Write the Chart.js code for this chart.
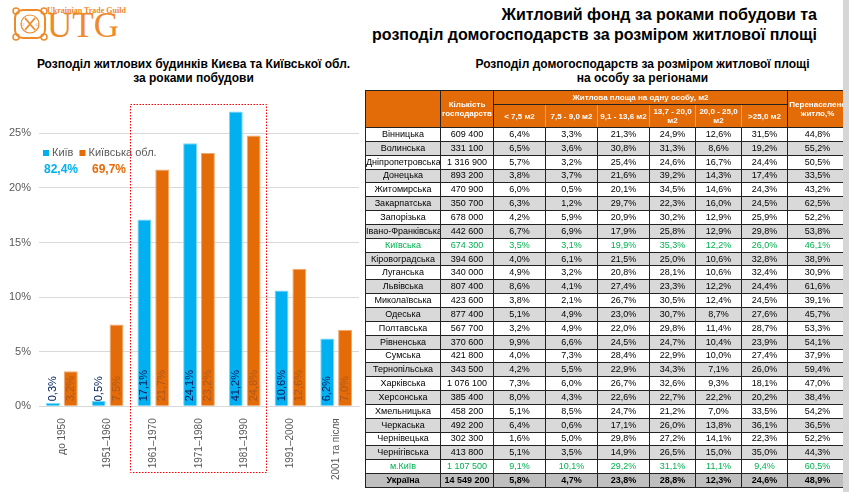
<!DOCTYPE html>
<html>
<head>
<meta charset="utf-8">
<script src="https://cdn.jsdelivr.net/npm/chart.js@4.4.1/dist/chart.umd.min.js"></script>
<style>
    body { margin: 0; width: 849px; height: 492px; background: #fff; position: relative; overflow: hidden; font-family: "Liberation Sans", Arial, sans-serif; }
    .title { position: absolute; right: 32px; top: 5px; text-align: right; font-weight: bold; font-size: 16px; line-height: 20px; color: #000; }
    .sub { position: absolute; font-weight: bold; font-size: 12px; line-height: 14px; text-align: center; color: #000; }
    .logo { position: absolute; left: 12px; top: 5px; color: #ee8a2a; }
    .strip { position: absolute; left: 843px; top: 0; width: 6px; height: 492px; background: #d6d6d6; }
    .tblwrap { position: absolute; left: 365px; top: 90px; width: 478px; height: 402px; overflow: hidden; }
    table { border-collapse: collapse; table-layout: fixed; width: 482px; font-size: 9px; color: #000; }
    td, th { padding: 0; text-align: center; border: 1px solid #222; white-space: nowrap; overflow: hidden; }
    th { background: #e36c09; color: #fff; font-size: 8px; font-weight: bold; line-height: 9px; }
    th.sub2 { border-color: #f0a060 #f0a060 #222 #f0a060; }
    tr.d { height: 13.85px; }
    td { line-height: 11px; }
    tr.g td { background: #d9d9d9; }
    tr.green td { color: #00b050; }
    tr.total td { background: #bfbfbf; font-weight: bold; }
</style>
</head>
<body>
<div class="logo">
    <svg width="36" height="34" viewBox="0 0 36 34" style="position:absolute;left:0;top:2px">
        <rect x="3" y="3" width="30" height="28" rx="8" fill="none" stroke="#ee8a2a" stroke-width="2"/>
        <circle cx="4" cy="4" r="3" fill="none" stroke="#ee8a2a" stroke-width="1.5"/>
        <circle cx="32" cy="4" r="3" fill="none" stroke="#ee8a2a" stroke-width="1.5"/>
        <circle cx="4" cy="30" r="3" fill="none" stroke="#ee8a2a" stroke-width="1.5"/>
        <circle cx="32" cy="30" r="3" fill="none" stroke="#ee8a2a" stroke-width="1.5"/>
        <circle cx="18" cy="17" r="9" fill="none" stroke="#ee8a2a" stroke-width="1.2"/>
        <path d="M13 11 L23 23 M23 11 L13 23" stroke="#ee8a2a" stroke-width="1.8"/>
        <text x="9" y="19" font-size="5" fill="#ee8a2a" font-family="Liberation Serif">U</text>
        <text x="23.5" y="19" font-size="5" fill="#ee8a2a" font-family="Liberation Serif">G</text>
    </svg>
    <div style="position:absolute;left:35px;top:1px;font-family:'Liberation Serif';font-weight:bold;font-size:8px;white-space:nowrap">Ukrainian Trade Guild</div>
    <div style="position:absolute;left:35px;top:2px;font-family:'Liberation Serif';font-size:35px;line-height:38px">UTG</div>
</div>

<div class="title">Житловий фонд за роками побудови та<br>розподіл домогосподарств за розміром житлової площі</div>
<div class="sub" style="left:16px;width:355px;top:57px">Розподіл житлових будинків Києва та Київської обл.<br>за роками побудови</div>
<div class="sub" style="left:440px;width:405px;top:57px">Розподіл домогосподарств за розміром житлової площі<br>на особу за регіонами</div>

<div style="position:absolute;left:0;top:86px;width:362px;height:402px">
    <canvas id="myBarChart"></canvas>
</div>
<svg width="849" height="492" style="position:absolute;left:0;top:0;pointer-events:none">
    <rect x="130.5" y="104.5" width="136" height="368" fill="none" stroke="#ff0000" stroke-width="1" stroke-dasharray="1.5,1.5"/>
</svg>

<div class="tblwrap"><table id="tbl"></table></div>
<div class="strip"></div>

<script>
// chart: share of housing by construction period
const periods = ['до 1950', '1951–1960', '1961–1970', '1971–1980', '1981–1990', '1991–2000', '2001 та після'];
const kyivShare = [0.3, 0.5, 17.1, 24.1, 27.0, 10.6, 6.2];
const kyivLabels = ['0,3%', '0,5%', '17,1%', '24,1%', '41,2%', '10,6%', '6,2%'];
const oblShare = [3.2, 7.5, 21.7, 23.2, 24.8, 12.6, 7.0];
const yTicks = [0, 5, 10, 15, 20, 25];
const kyivTotal = '82,4%';
const oblTotal = '69,7%';

// table: households by living space per person
const regions = ['Вінницька', 'Волинська', 'Дніпропетровська', 'Донецька', 'Житомирська', 'Закарпатська', 'Запорізька', 'Івано-Франківська', 'Київська', 'Кіровоградська', 'Луганська', 'Львівська', 'Миколаївська', 'Одеська', 'Полтавська', 'Рівненська', 'Сумська', 'Тернопільська', 'Харківська', 'Херсонська', 'Хмельницька', 'Черкаська', 'Чернівецька', 'Чернігівська', 'м.Київ', 'Україна'];
const households = ['609 400', '331 100', '1 316 900', '893 200', '470 900', '350 700', '678 000', '442 600', '674 300', '394 600', '340 000', '807 400', '423 600', '877 400', '567 700', '370 600', '421 800', '343 500', '1 076 100', '385 400', '458 200', '492 200', '302 300', '413 800', '1 107 500', '14 549 200'];
const spaceBands = ['< 7,5 м2', '7,5 - 9,0 м2', '9,1 - 13,6 м2', '13,7 - 20,0<br>м2', '20,0 - 25,0<br>м2', '>25,0 м2'];
const shares = [
    [6.4, 3.3, 21.3, 24.9, 12.6, 31.5, 44.8],
    [6.5, 3.6, 30.8, 31.3, 8.6, 19.2, 55.2],
    [5.7, 3.2, 25.4, 24.6, 16.7, 24.4, 50.5],
    [3.8, 3.7, 21.6, 39.2, 14.3, 17.4, 33.5],
    [6.0, 0.5, 20.1, 34.5, 14.6, 24.3, 43.2],
    [6.3, 1.2, 29.7, 22.3, 16.0, 24.5, 62.5],
    [4.2, 5.9, 20.9, 30.2, 12.9, 25.9, 52.2],
    [6.7, 6.9, 17.9, 25.8, 12.9, 29.8, 53.8],
    [3.5, 3.1, 19.9, 35.3, 12.2, 26.0, 46.1],
    [4.0, 6.1, 21.5, 25.0, 10.6, 32.8, 38.9],
    [4.9, 3.2, 20.8, 28.1, 10.6, 32.4, 30.9],
    [8.6, 4.1, 27.4, 23.3, 12.2, 24.4, 61.6],
    [3.8, 2.1, 26.7, 30.5, 12.4, 24.5, 39.1],
    [5.1, 4.9, 23.0, 30.7, 8.7, 27.6, 45.7],
    [3.2, 4.9, 22.0, 29.8, 11.4, 28.7, 53.3],
    [9.9, 6.6, 24.5, 24.7, 10.4, 23.9, 54.1],
    [4.0, 7.3, 28.4, 22.9, 10.0, 27.4, 37.9],
    [4.2, 5.5, 22.9, 34.3, 7.1, 26.0, 59.4],
    [7.3, 6.0, 26.7, 32.6, 9.3, 18.1, 47.0],
    [8.0, 4.3, 22.6, 22.7, 22.2, 20.2, 38.4],
    [5.1, 8.5, 24.7, 21.2, 7.0, 33.5, 54.2],
    [6.4, 0.6, 17.1, 26.0, 13.8, 36.1, 36.5],
    [1.6, 5.0, 29.8, 27.2, 14.1, 22.3, 52.2],
    [5.1, 3.5, 14.9, 26.5, 15.0, 35.0, 44.3],
    [9.1, 10.1, 29.2, 31.1, 11.1, 9.4, 60.5],
    [5.8, 4.7, 23.8, 28.8, 12.3, 24.6, 48.9]
];
const greenRows = ['Київська', 'м.Київ'];

const kyivColor = '#00b0f0';
const oblColor = '#e36c09';

function pct(v) {
    return v.toFixed(1).replace('.', ',') + '%';
}

function buildTable() {
    let html = '<colgroup>';
    [75, 53, 52, 52, 52, 46, 46, 46, 60].forEach(w => html += '<col style="width:' + w + 'px">');
    html += '</colgroup>';
    html += '<tr style="height:14px"><th rowspan="2"></th><th rowspan="2">Кількість<br>господарств</th>' +
        '<th colspan="6">Житлова площа на одну особу, м2</th><th rowspan="2">Перенаселене<br>житло,%</th></tr>';
    html += '<tr style="height:23px">';
    spaceBands.forEach(b => html += '<th class="sub2">' + b + '</th>');
    html += '</tr>';
    regions.forEach((r, i) => {
        let cls = 'd' + (i % 2 === 1 ? ' g' : '');
        if (greenRows.includes(r)) cls += ' green';
        if (i === regions.length - 1) cls = 'd total';
        html += '<tr class="' + cls + '"><td>' + r + '</td><td>' + households[i] + '</td>';
        shares[i].forEach(v => html += '<td>' + pct(v) + '</td>');
        html += '</tr>';
    });
    document.getElementById('tbl').innerHTML = html;
}
buildTable();

// labels inside bars, vertical, plus the legend block inside the plot
const barText = {
    id: 'barText',
    afterDatasetsDraw(chart) {
        let ctx = chart.ctx;
        let base = chart.scales.y.getPixelForValue(0);
        ctx.save();
        ctx.font = '11px "Liberation Sans", Arial';
        ctx.textBaseline = 'middle';
        ctx.textAlign = 'left';
        chart.data.datasets.forEach((ds, di) => {
            chart.getDatasetMeta(di).data.forEach((bar, i) => {
                ctx.save();
                ctx.translate(bar.x, base - 5);
                ctx.rotate(-Math.PI / 2);
                ctx.fillStyle = ds.labelColor;
                ctx.fillText(ds.texts[i], 0, 0);
                ctx.restore();
            });
        });
        // legend
        let x = chart.chartArea.left + 4, y = 67;
        ctx.font = '11px "Liberation Sans", Arial';
        ctx.fillStyle = kyivColor;
        ctx.fillRect(x, y - 3, 6, 6);
        ctx.fillStyle = '#595959';
        ctx.fillText('Київ', x + 9, y);
        x += 9 + ctx.measureText('Київ').width + 6;
        ctx.fillStyle = oblColor;
        ctx.fillRect(x, y - 3, 6, 6);
        ctx.fillStyle = '#595959';
        ctx.fillText('Київська обл.', x + 9, y);
        ctx.font = 'bold 12px "Liberation Sans", Arial';
        ctx.fillStyle = kyivColor;
        ctx.fillText(kyivTotal, chart.chartArea.left + 5, 84);
        ctx.fillStyle = oblColor;
        ctx.fillText(oblTotal, chart.chartArea.left + 53, 84);
        ctx.restore();
    }
};

let chart = document.getElementById('myBarChart').getContext('2d');
let myBarChart = new Chart(chart, {
    type: 'bar',
    data: {
        labels: periods,
        datasets: [{
            label: 'Київ',
            data: kyivShare,
            texts: kyivLabels,
            labelColor: '#002060',
            backgroundColor: kyivColor,
            borderColor: '#7fd7f7',
            borderWidth: 1,
            categoryPercentage: 0.78,
            barPercentage: 0.78
        }, {
            label: 'Київська обл.',
            data: oblShare,
            texts: oblShare.map(pct),
            labelColor: '#b0561c',
            backgroundColor: oblColor,
            borderColor: '#f0a870',
            borderWidth: 1,
            categoryPercentage: 0.78,
            barPercentage: 0.78
        }]
    },
    options: {
        responsive: true,
        maintainAspectRatio: false,
        animation: false,
        layout: { padding: { left: 1, right: 3, top: 0, bottom: 4 } },
        plugins: { legend: { display: false }, tooltip: { enabled: false } },
        scales: {
            x: {
                grid: { display: false },
                border: { color: '#d9d9d9' },
                ticks: {
                    color: '#595959',
                    font: { size: 10, family: '"Liberation Sans", Arial' },
                    minRotation: 90,
                    maxRotation: 90,
                    padding: 4
                }
            },
            y: {
                min: 0,
                max: 28,
                afterBuildTicks: axis => { axis.ticks = yTicks.map(v => ({ value: v })); },
                grid: { color: '#d9d9d9', drawTicks: false },
                border: { display: false },
                ticks: {
                    color: '#595959',
                    font: { size: 11, family: '"Liberation Sans", Arial' },
                    padding: 8,
                    callback: v => v + '%'
                }
            }
        }
    },
    plugins: [barText]
});
</script>
</body>
</html>
